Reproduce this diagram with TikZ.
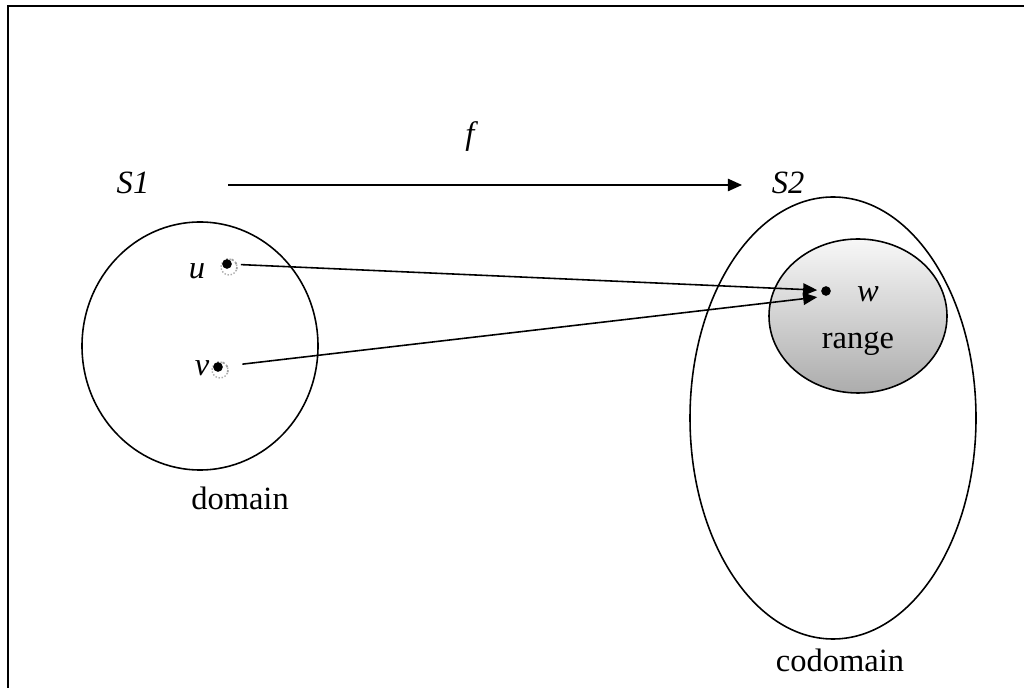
\documentclass[tikz,border=0pt]{standalone}
\usepackage{fontspec}
\setmainfont{Liberation Serif}
\usetikzlibrary{arrows.meta}
\begin{document}
\begin{tikzpicture}[x=0.02cm,y=-0.02cm,
  txt/.style={font=\fontsize{18.5}{20}\selectfont, inner sep=0pt},
  itxt/.style={font=\fontsize{18.5}{20}\selectfont\itshape, inner sep=0pt},
  set/.style={draw=black, line width=0.9pt},
  dotnode/.style={circle, fill=black, inner sep=0pt, minimum size=5.5pt},
  halo/.style={draw=gray!65, densely dotted, line width=0.8pt},
  arr/.style={-{Triangle[length=8pt,width=7pt]}, line width=0.9pt}]
\useasboundingbox (0,0) rectangle (1024,688);
% frame
\draw[line width=1.3pt] (8,688) -- (8,6) -- (1024,6);
% sets
\draw[set] (200,346) ellipse [x radius=118, y radius=124];
\draw[set] (833,418) ellipse [x radius=143, y radius=221];
\shade[top color=gray!6, middle color=gray!30, bottom color=gray!65] (858,316) ellipse [x radius=89, y radius=77];
\draw[set] (858,316) ellipse [x radius=89, y radius=77];
% labels
\node[itxt] (S1) at (133,183) {S1};
\node[itxt] (S2) at (788,183) {S2};
\node[itxt] (f) at (470,137) {f};
\node[txt] (dom) at (240,498) {domain};
\node[txt] (cod) at (840,660) {codomain};
\node[txt] (rng) at (858,344) {range};
% points
\draw[halo] (229,267) circle [radius=8];
\draw[gray!75, line width=1pt, dotted] (229,267) ++(-110:8) arc[start angle=-110, end angle=20, radius=8];
\draw[halo] (220,370) circle [radius=8];
\draw[gray!75, line width=1pt, dotted] (220,370) ++(-110:8) arc[start angle=-110, end angle=20, radius=8];
\node[dotnode] (u) at (227,264) {};
\node[dotnode] (v) at (218,367) {};
\node[dotnode] (w) at (826,291) {};
\node[itxt] (ul) at (197,271) {u};
\node[itxt] (vl) at (202,368) {v};
\node[itxt] (wl) at (868,294) {w};
% arrows
\coordinate (a1) at (228,185);
\coordinate (a2) at (742,185);
\draw[arr] (a1) -- (a2);
\draw[arr, shorten <=5pt] (u) -- ([xshift=-5pt,yshift=0.5pt]w.center);
\draw[arr, shorten <=11pt] (v) -- ([xshift=-5pt,yshift=-3.5pt]w.center);
\end{tikzpicture}
\end{document}
